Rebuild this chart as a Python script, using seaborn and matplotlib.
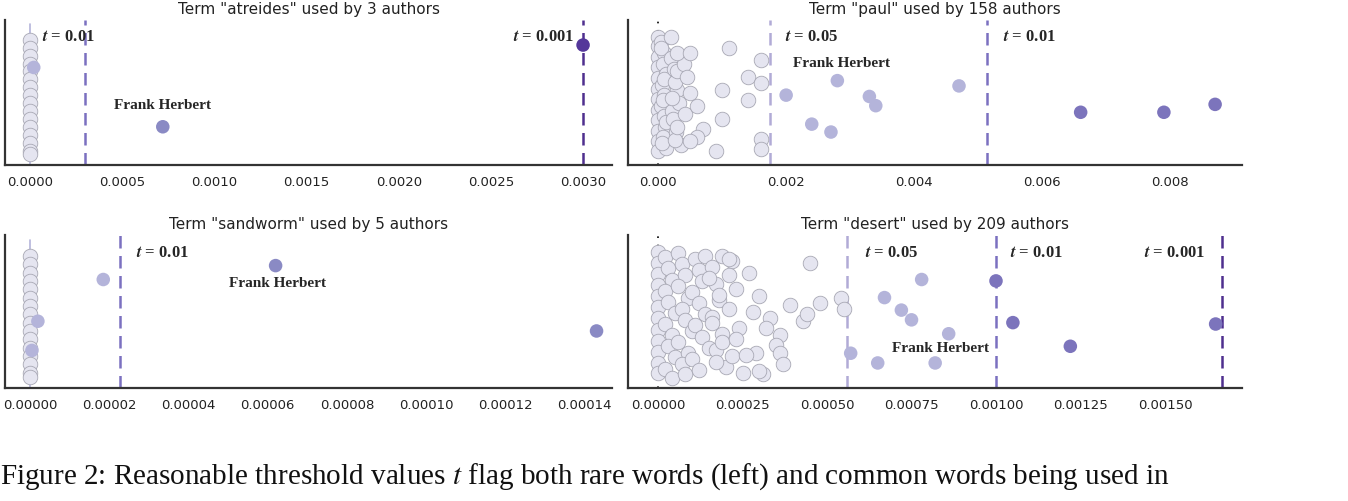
import numpy as np
import pandas as pd
import matplotlib.pyplot as plt
import seaborn as sns

# ---- data (x = relative frequency, y = strip jitter position 0..1) ----
col_y = [0.90, 0.84, 0.78, 0.72, 0.66, 0.60, 0.54, 0.48, 0.42, 0.36, 0.30, 0.24, 0.18, 0.12, 0.06, 0.03]

atr_x = [0.0] * len(col_y) + [0.00002, 0.00072, 0.0030]
atr_y = col_y + [0.69, 0.24, 0.86]
atr_g = ["gray"] * len(col_y) + ["light", "mid", "dark"]

snd_x = [0.0] * len(col_y) + [0.0000185, 0.000002, 0.0000005, 0.000062, 0.000143]
snd_y = col_y + [0.73, 0.43, 0.22, 0.83, 0.36]
snd_g = ["gray"] * len(col_y) + ["light", "light", "light", "mid", "mid"]

paul_gray_x = [0.0, 0.0, 0.0, 0.0, 0.0, 0.0, 0.0, 0.0, 0.0, 0.0, 0.0, 0.0,
               0.00005, 0.0001, 0.00008, 0.00012, 0.00006, 0.0001, 0.00004, 0.00009,
               0.00011, 0.00007, 0.00013, 0.00005, 0.0001, 0.00008, 0.00012, 0.00006,
               0.0002, 0.00025, 0.0003, 0.00022, 0.00028, 0.00035, 0.0002, 0.00026,
               0.00032, 0.00024, 0.0003, 0.00021, 0.00027, 0.0004, 0.00045, 0.0005,
               0.0003, 0.00042, 0.0011, 0.0016, 0.0014, 0.0016, 0.0010, 0.0014,
               0.0006, 0.0010, 0.0007, 0.0006, 0.0016, 0.0016, 0.0009, 0.0005, 0.0003, 0.0005]
paul_gray_y = [0.92, 0.85, 0.77, 0.69, 0.61, 0.53, 0.45, 0.37, 0.29, 0.21, 0.13, 0.06,
               0.88, 0.80, 0.72, 0.64, 0.56, 0.48, 0.40, 0.32, 0.24, 0.16, 0.08, 0.84,
               0.60, 0.44, 0.28, 0.12, 0.76, 0.68, 0.52, 0.36, 0.20, 0.10, 0.92, 0.58,
               0.42, 0.30, 0.66, 0.46, 0.14, 0.72, 0.62, 0.50, 0.24, 0.34, 0.84, 0.75,
               0.62, 0.57, 0.52, 0.44, 0.40, 0.30, 0.22, 0.16, 0.15, 0.07, 0.06, 0.13, 0.80, 0.80]
paul_x = paul_gray_x + [0.0028, 0.0020, 0.0033, 0.0034, 0.0024, 0.0027, 0.0047, 0.0066, 0.0079, 0.0087]
paul_y = paul_gray_y + [0.59, 0.48, 0.47, 0.40, 0.26, 0.20, 0.55, 0.35, 0.35, 0.41]
paul_g = ["gray"] * len(paul_gray_x) + ["light"] * 7 + ["dark"] * 3

des_gray_x = [0.0, 0.0, 0.0, 0.0, 0.0, 0.0, 0.0, 0.0, 0.0, 0.0, 0.0, 0.0,
              0.00002, 0.00003, 0.00004, 0.00002, 0.00003, 0.00005, 0.00002, 0.00004,
              0.00003, 0.00005, 0.00002, 0.00004, 0.00006, 0.00007, 0.00008, 0.00006,
              0.00009, 0.00007, 0.00008, 0.0001, 0.00006, 0.00009, 0.00007, 0.00008,
              0.00011, 0.00012, 0.00013, 0.0001, 0.00012, 0.00014, 0.00011, 0.00013,
              0.00015, 0.0001, 0.00012, 0.00014, 0.00016, 0.00017, 0.00018, 0.00016,
              0.00019, 0.00017, 0.0002, 0.00018, 0.00016, 0.00019, 0.00017, 0.00015,
              0.00022, 0.00023, 0.00021, 0.00024, 0.00022, 0.00025, 0.00021, 0.00023,
              0.00027, 0.0003, 0.00028, 0.00033, 0.00032, 0.00036, 0.00039, 0.00043,
              0.00048, 0.00054, 0.00055, 0.00044, 0.00035, 0.00029, 0.00031, 0.00026,
              0.00036, 0.00037, 0.0003, 0.00019, 0.00021, 0.00045]
des_gray_y = [0.93, 0.85, 0.77, 0.69, 0.61, 0.53, 0.45, 0.37, 0.29, 0.21, 0.13, 0.06,
              0.89, 0.81, 0.73, 0.65, 0.57, 0.49, 0.41, 0.33, 0.25, 0.17, 0.09, 0.02,
              0.92, 0.84, 0.76, 0.68, 0.60, 0.52, 0.44, 0.36, 0.28, 0.20, 0.12, 0.05,
              0.88, 0.80, 0.72, 0.64, 0.56, 0.48, 0.40, 0.32, 0.24, 0.16, 0.08, 0.90,
              0.82, 0.70, 0.58, 0.46, 0.34, 0.22, 0.10, 0.62, 0.42, 0.28, 0.14, 0.74,
              0.86, 0.66, 0.52, 0.38, 0.18, 0.06, 0.76, 0.30, 0.78, 0.61, 0.50, 0.45,
              0.38, 0.33, 0.55, 0.43, 0.56, 0.60, 0.52, 0.48, 0.26, 0.20, 0.05, 0.19,
              0.20, 0.12, 0.07, 0.90, 0.88, 0.85]
des_x = des_gray_x + [0.00078, 0.00067, 0.00072, 0.00075, 0.00086, 0.00057, 0.00065, 0.00082,
                      0.0010, 0.00105, 0.00122, 0.00165]
des_y = des_gray_y + [0.73, 0.60, 0.51, 0.44, 0.34, 0.20, 0.13, 0.13, 0.72, 0.42, 0.25, 0.41]
des_g = ["gray"] * len(des_gray_x) + ["light"] * 8 + ["dark"] * 4

panels = [
    dict(title='Term "atreides" used by 3 authors', x=atr_x, y=atr_y, g=atr_g,
         xlim=(-0.000136, 0.003157), ticks=[0, 0.0005, 0.001, 0.0015, 0.002, 0.0025, 0.003], fmt="{:.4f}",
         lines=[(0.0003, "0.01", 0.00021, "c"), (0.0030, "0.001", 0.00295, "r")],
         fh=(0.00072, 0.40), dense=True),
    dict(title='Term "paul" used by 158 authors', x=paul_x, y=paul_y, g=paul_g,
         xlim=(-0.00047, 0.00912), ticks=[0, 0.002, 0.004, 0.006, 0.008], fmt="{:.3f}",
         lines=[(0.00175, "0.05", 0.0024, "c"), (0.00513, "0.01", 0.0058, "c")],
         fh=(0.00287, 0.72), dense=False),
    dict(title='Term "sandworm" used by 5 authors', x=snd_x, y=snd_y, g=snd_g,
         xlim=(-0.0000063, 0.0001469), ticks=[0, 0.00002, 0.00004, 0.00006, 0.00008, 0.0001, 0.00012, 0.00014], fmt="{:.5f}",
         lines=[(0.0000227, "0.01", 0.0000335, "c")],
         fh=(0.0000626, 0.70), dense=True),
    dict(title='Term "desert" used by 209 authors', x=des_x, y=des_y, g=des_g,
         xlim=(-0.000089, 0.001728), ticks=[0, 0.00025, 0.0005, 0.00075, 0.001, 0.00125, 0.0015], fmt="{:.5f}",
         lines=[(0.00056, "0.05", 0.00069, "c"), (0.0010, "0.01", 0.00112, "c"),
                (0.00167, "0.001", 0.00162, "r")],
         fh=(0.000835, 0.235), dense=False),
]

palette = {"gray": "#e5e5f0", "light": "#b4b4da", "mid": "#8a8ac4", "dark": "#7c74bc"}
line_colors = {"0.05": "#b1abd6", "0.01": "#7b70c0", "0.001": "#4f2f8e"}

sns.set_style("white")
plt.rcParams["mathtext.fontset"] = "stix"
fig = plt.figure(figsize=(13.48, 5.01), dpi=100)
boxes = [(5, 20, 607, 145), (628, 20, 614, 145), (5, 235, 607, 153), (628, 235, 614, 153)]

for p, (l, t, w, h) in zip(panels, boxes):
    ax = fig.add_axes([l / 1348, 1 - (t + h) / 501, w / 1348, h / 501])
    df = pd.DataFrame({"x": p["x"], "y": p["y"], "g": p["g"]})
    if p["dense"]:
        ax.axvline(0, ymin=0.0, ymax=0.97, color="#b4b4da", lw=1.2, zorder=1)
    else:
        ax.axvline(0, color="black", lw=1.2, ls=(0, (1, 4)), zorder=1)
    gray = df[df.g == "gray"]
    sns.scatterplot(data=gray, x="x", y="y", color=palette["gray"], edgecolor="#a8a8b4",
                    linewidth=0.6, s=110, ax=ax, zorder=2)
    for grp in ["light", "mid", "dark"]:
        sub = df[df.g == grp]
        if len(sub):
            col = "#54379a" if (grp == "dark" and p["x"] is atr_x) else palette[grp]
            sns.scatterplot(data=sub, x="x", y="y", color=col, edgecolor="none",
                            s=95, ax=ax, zorder=3)
    for xv, lab, lx, ha in p["lines"]:
        ax.axvline(xv, color=line_colors[lab], lw=1.8, ls=(0, (5, 3)), zorder=1)
        ax.text(lx, 0.92, r"$\boldsymbol{t}$ = " + lab, ha={"c": "center", "r": "right"}[ha],
                va="center", fontsize=12, fontweight="bold", family="Liberation Serif")
    ax.text(p["fh"][0], p["fh"][1], "Frank Herbert", ha="center", va="center",
            fontsize=11, fontweight="bold", family="Liberation Serif")
    ax.set_xlim(*p["xlim"])
    ax.set_ylim(-0.05, 1.05)
    ax.set_xticks(p["ticks"])
    ax.set_xticklabels([p["fmt"].format(v) for v in p["ticks"]], fontsize=9.5, color="#222222")
    ax.set_yticks([])
    ax.set_xlabel("")
    ax.set_ylabel("")
    ax.set_title(p["title"], fontsize=11, color="#222222", pad=4)
    sns.despine(ax=ax)
    for s in ["left", "bottom"]:
        ax.spines[s].set_linewidth(1.6)
        ax.spines[s].set_color("#333333")
    ax.tick_params(axis="x", length=0, pad=8)

fig.text(0.0, 0.035, "Figure 2: Reasonable threshold values $t$ flag both rare words (left) and common words being used in",
         fontsize=21, family="Liberation Serif", color="#111111")
fig.savefig("out.png", dpi=100)
